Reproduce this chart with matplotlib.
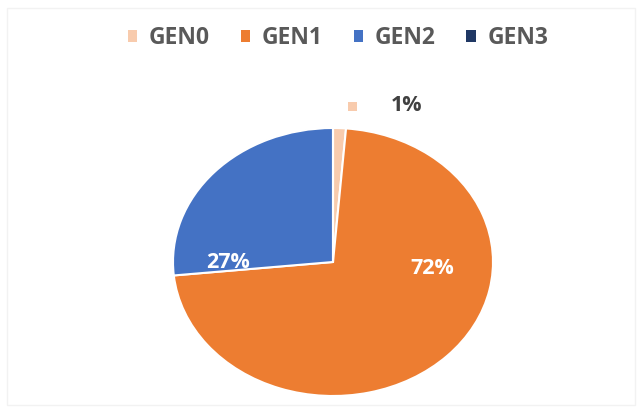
import matplotlib
matplotlib.use("Agg")
import matplotlib.pyplot as plt
from matplotlib.patches import Rectangle

categories = ["GEN0", "GEN1", "GEN2", "GEN3"]
values = [1.3, 72.1, 26.6, 0.0]
colors = ["#F8CBAD", "#ED7D31", "#4472C4", "#203864"]

plt.rcParams['font.family'] = ['Open Sans', 'DejaVu Sans']

W, H = 643, 413
fig = plt.figure(figsize=(W / 100, H / 100), dpi=100)
fig.patch.set_facecolor("white")

cx, cy = 333, 262          # pie centre in pixels (from top)
rx, ry = 160, 134
ax = fig.add_axes([(cx - rx) / W, (H - cy - ry) / H, 2 * rx / W, 2 * ry / H])
wedges, _ = ax.pie(values, colors=colors, startangle=90, counterclock=False,
                   wedgeprops=dict(edgecolor="white", linewidth=1.5))
ax.set_aspect("auto")
ax.set_xlim(-1, 1)
ax.set_ylim(-1, 1)
ax.axis("off")

def pct(v):
    return f"{v:.0f}%"

# data labels
ax.text(-0.655, 0.0, pct(values[2]), color="white", fontsize=15.5,
        fontweight="bold", ha="center", va="center")
ax.text(0.62, -0.05, pct(values[1]), color="white", fontsize=15.5,
        fontweight="bold", ha="center", va="center")
ax.text(0.46, 1.165, pct(values[0]), color="#404040", fontsize=15.5,
        fontweight="bold", ha="center", va="center", clip_on=False)
ax.add_patch(Rectangle((0.095, 1.125), 0.055, 0.07, facecolor=colors[0],
                       edgecolor="none", clip_on=False))

leg = fig.legend(wedges, categories, loc="center", ncol=4,
                 bbox_to_anchor=(338 / W, 1 - 38 / H), frameon=False,
                 prop=dict(size=16.5, weight="bold"), handlelength=0.42,
                 handleheight=0.42, handletextpad=0.5, columnspacing=1.35)
for t in leg.get_texts():
    t.set_color("#595959")
for h in leg.legend_handles:
    h.set_edgecolor("none")

fig.add_artist(Rectangle((7 / W, 8 / H), 628 / W, 397 / H, transform=fig.transFigure,
                         fill=False, edgecolor="#F2F2F2", linewidth=1))

fig.savefig("out.png", dpi=100, facecolor="white")
